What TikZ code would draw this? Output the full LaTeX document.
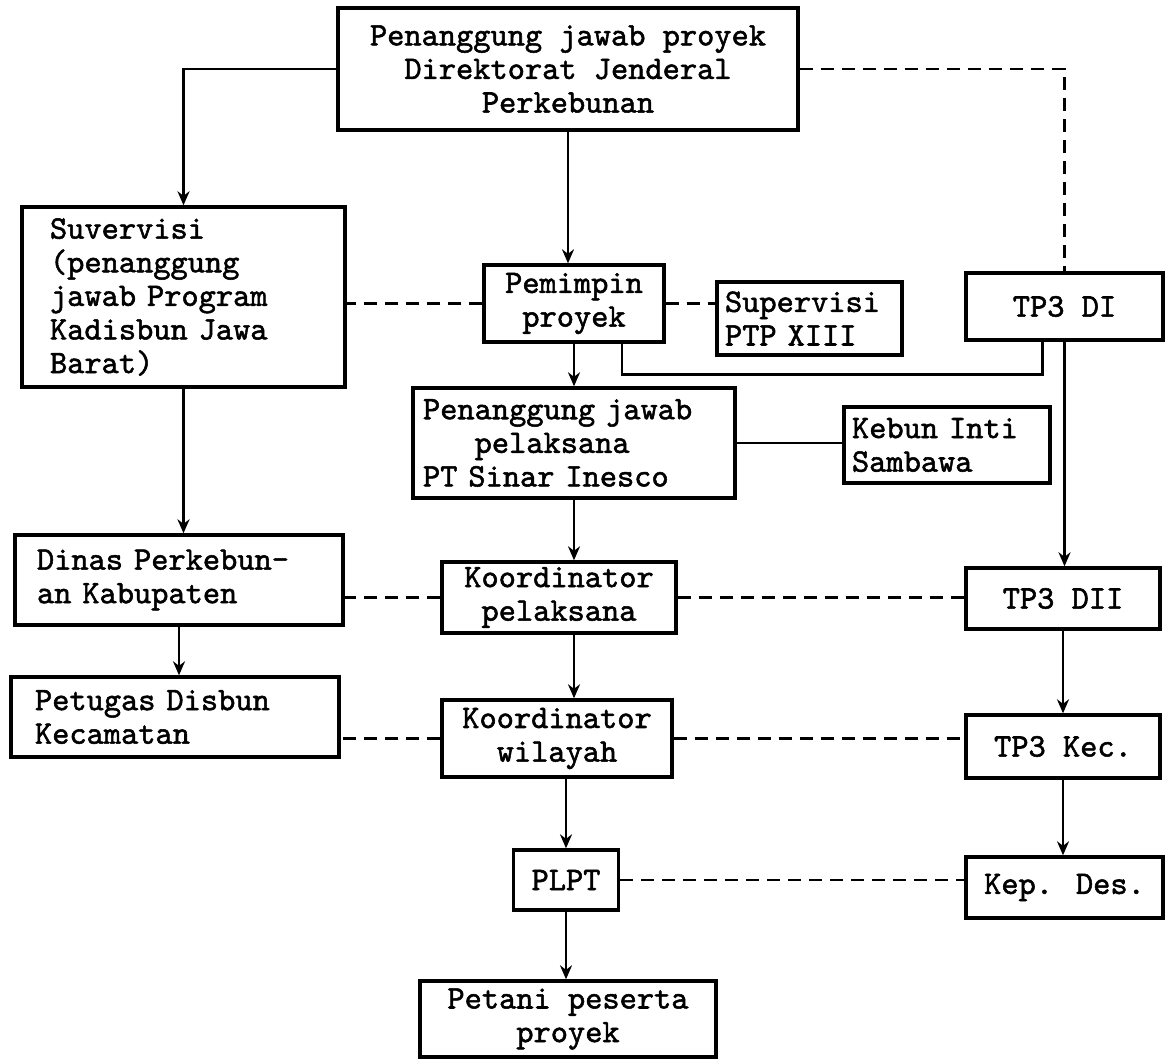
\documentclass[tikz,border=0pt]{standalone}
\usepackage{fontspec}
\newfontfamily\typer{lmmono10-regular.otf}[FakeBold=1.6]
\usetikzlibrary{arrows.meta}

\begin{document}
\begin{tikzpicture}[x=0.5pt, y=-0.5pt, line width=1.4pt, >={Stealth[length=7pt,width=6pt]},
box/.style={draw, line width=1.7pt, inner sep=0pt, align=center, font=\typer\fontsize{16.4}{16.8}\selectfont},
lbox/.style={box, align=left, inner xsep=#1},
dash line/.style={dash pattern=on 6.5pt off 4pt}]%
\useasboundingbox (0,0) rectangle (1166,1059);
\begin{scope}
\node[box, minimum width=230pt, minimum height=61pt] (top) at (568,69) {Penanggung jawab proyek\\Direktorat Jenderal\\Perkebunan};
\node[lbox=14pt, text width=133.5pt, minimum height=90pt] (suv) at (183.5,297) {Suvervisi\\(penanggung\\jawab Program\\Kadisbun Jawa\\Barat)};
\node[box, minimum width=90pt, minimum height=38.5pt] (pem) at (574,303.5) {Pemimpin\\proyek};
\node[lbox=4pt, text width=84.5pt, minimum height=36.5pt] (ptp) at (809.5,318.5) {Supervisi\\PTP XIII};
\node[box, minimum width=98.5pt, minimum height=33.5pt] (tpa) at (1064.5,306.5) {TP3 DI};
\node[lbox=5pt, text width=151pt, minimum height=55pt] (pel) at (574,443) {Penanggung jawab\\\phantom{Pen}pelaksana\\PT Sinar Inesco};
\node[lbox=4pt, text width=95pt, minimum height=38pt] (keb) at (947,445) {Kebun Inti\\Sambawa};
\node[lbox=11pt, text width=142pt, minimum height=45pt] (din) at (179,580) {Dinas Perkebun-\\an Kabupaten};
\node[box, minimum width=117pt, minimum height=35.5pt] (kpl) at (559,597.5) {Koordinator\\pelaksana};
\node[box, minimum width=97pt, minimum height=30.5pt] (tpb) at (1063,598.5) {TP3 DII};
\node[lbox=12pt, text width=140pt, minimum height=40pt] (ptg) at (175,717) {Petugas Disbun\\Kecamatan};
\node[box, minimum width=115pt, minimum height=38.5pt] (kwl) at (557,738.5) {Koordinator\\wilayah};
\node[box, minimum width=97pt, minimum height=31.5pt] (tpc) at (1063,746.5) {TP3 Kec.};
\node[box, minimum width=52.5pt, minimum height=30pt] (plpt) at (566,880) {PLPT};
\node[box, minimum width=98.5pt, minimum height=30.5pt] (kep) at (1064.5,887.5) {Kep. Des.};
\node[box, minimum width=148pt, minimum height=38pt] (tani) at (568,1019) {Petani peserta\\proyek};
\end{scope}
% garis komando
\begin{scope}[->]
\draw (top.west) -| (suv.north);
\draw (top) -- (top |- pem.north);
\draw (pem) -- (pem |- pel.north);
\draw (pel) -- (pel |- kpl.north);
\draw (pel |- kpl.south) -- (pel |- kwl.north);
\draw (plpt |- kwl.south) -- (plpt);
\draw (plpt) -- (plpt |- tani.north);
\draw (suv) -- (suv |- din.north);
\draw (din) -- (din |- ptg.north);
\draw (tpa) -- (tpa |- tpb.north);
\draw (tpb) -- (tpb |- tpc.north);
\draw (tpc) -- (tpc |- kep.north);
\end{scope}
\draw ([xshift=24pt]pem.south) -- ++(0,31) -| ([xshift=-11pt]tpa.south);
\draw (pel.east) -- (pel.east -| keb.west);
% garis koordinasi
\begin{scope}[dash line]
\draw (top.east) -| (tpa.north);
\draw (pem.west) -- (pem.west -| suv.east);
\draw (pem.east) -- (pem.east -| ptp.west);
\draw (kpl.west) -- (kpl.west -| din.east);
\draw (kpl.east) -- (kpl.east -| tpb.west);
\draw (kwl.west) -- (kwl.west -| ptg.east);
\draw (kwl.east) -- (kwl.east -| tpc.west);
\draw (plpt.east) -- (plpt.east -| kep.west);
\end{scope}
\end{tikzpicture}
\end{document}
